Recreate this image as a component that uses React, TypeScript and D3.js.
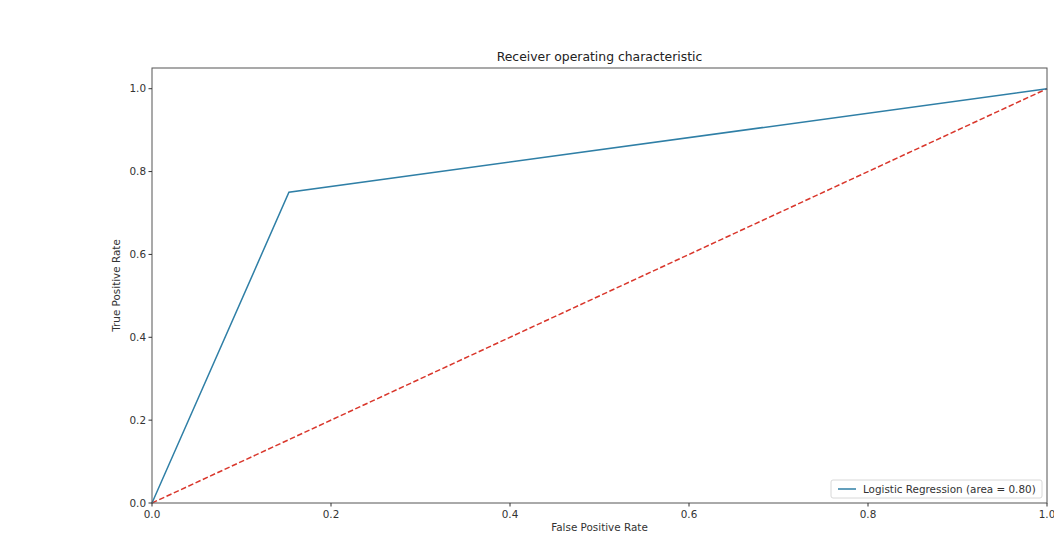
import React from 'react';
import * as d3 from 'd3';

const fpr = [0, 0.153, 1];
const tpr = [0, 0.75, 1];
const chance = [0, 1];
const xTicks = [0, 0.2, 0.4, 0.6, 0.8, 1.0];
const yTicks = [0, 0.2, 0.4, 0.6, 0.8, 1.0];
const legendLabel = 'Logistic Regression (area = 0.80)';

const W = 1054;
const H = 557;
const margin = { left: 152, right: 7, top: 68, bottom: 54 };
const font = 'DejaVu Sans, sans-serif';

export default function App() {
  const x = d3.scaleLinear().domain([0, 1]).range([margin.left, W - margin.right]);
  const y = d3.scaleLinear().domain([0, 1.05]).range([H - margin.bottom, margin.top]);

  const line = d3.line<[number, number]>().x(d => x(d[0])).y(d => y(d[1]));
  const roc = fpr.map((f, i) => [f, tpr[i]] as [number, number]);
  const diag = chance.map(c => [c, c] as [number, number]);

  const x0 = x(0), x1 = x(1), y0 = y(0), yTop = y(1.05);

  return (
    <svg width={W} height={H} style={{ position: 'absolute', left: 0, top: 0, background: '#fff' }}>
      <text x={(x0 + x1) / 2} y={61} textAnchor="middle" fontFamily={font} fontSize={12.4} fill="#222">
        Receiver operating characteristic
      </text>

      <path d={line(diag) || ''} fill="none" stroke="#d9362b" strokeWidth={1.5} strokeDasharray="5.5,2.5" />
      <path d={line(roc) || ''} fill="none" stroke="#2f7fa6" strokeWidth={1.5} />

      <rect x={x0} y={yTop} width={x1 - x0} height={y0 - yTop} fill="none" stroke="#555" strokeWidth={1} />

      {xTicks.map(t => (
        <g key={'x' + t}>
          <line x1={x(t)} x2={x(t)} y1={y0} y2={y0 + 3.5} stroke="#333" />
          <text x={x(t)} y={y0 + 15} textAnchor="middle" fontFamily={font} fontSize={10.4} fill="#333">
            {t.toFixed(1)}
          </text>
        </g>
      ))}
      {yTicks.map(t => (
        <g key={'y' + t}>
          <line x1={x0 - 3.5} x2={x0} y1={y(t)} y2={y(t)} stroke="#333" />
          <text x={x0 - 6} y={y(t) + 3.5} textAnchor="end" fontFamily={font} fontSize={10.4} fill="#333">
            {t.toFixed(1)}
          </text>
        </g>
      ))}

      <text x={(x0 + x1) / 2} y={531} textAnchor="middle" fontFamily={font} fontSize={10.4} fill="#333">
        False Positive Rate
      </text>
      <text
        transform={`translate(120,${(y0 + yTop) / 2}) rotate(-90)`}
        textAnchor="middle"
        fontFamily={font}
        fontSize={10.4}
        fill="#333"
      >
        True Positive Rate
      </text>

      <g>
        <rect x={831} y={480} width={211} height={18} rx={2} fill="#fff" stroke="#d8d8d8" />
        <line x1={838} x2={856} y1={489} y2={489} stroke="#2f7fa6" strokeWidth={1.5} />
        <text x={863} y={492.5} fontFamily={font} fontSize={10.4} fill="#333">
          {legendLabel}
        </text>
      </g>
    </svg>
  );
}
